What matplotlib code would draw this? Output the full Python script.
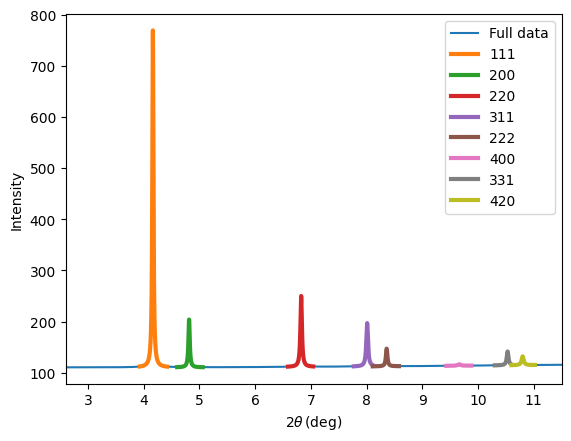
import numpy as np
import matplotlib
matplotlib.use('Agg')
import matplotlib.pyplot as plt

# baseline of the pattern
base_tt = [2.6, 5.0, 7.0, 9.0, 11.5]
base_int = [110.5, 110.5, 111.5, 113.0, 115.5]

# reflections: hkl, position (2theta), apex intensity, half width
hkl = ['111', '200', '220', '311', '222', '400', '331', '420']
peak_pos = [4.165, 4.815, 6.826, 8.01, 8.36, 9.66, 10.53, 10.80]
peak_int = [770, 204, 250, 197, 147, 116.5, 141.5, 132]
peak_hwhm = [0.012, 0.014, 0.016, 0.018, 0.016, 0.03, 0.018, 0.022]

# fit windows
fit_lo = [3.93, 4.60, 6.59, 7.77, 8.11, 9.43, 10.30, 10.60]
fit_hi = [4.42, 5.06, 7.04, 8.11, 8.58, 9.88, 10.60, 11.02]


def baseline(x):
    return np.interp(x, base_tt, base_int)


def lorentz(x, x0, amp, g):
    return amp * g**2 / ((x - x0)**2 + g**2)


tt = np.linspace(2.6, 11.5, 6000)
full = baseline(tt)
for p, h, w in zip(peak_pos, peak_int, peak_hwhm):
    full = full + lorentz(tt, p, h - baseline(p), w)

fig, ax = plt.subplots(figsize=(6.4, 4.8), dpi=100)
ax.plot(tt, full, label='Full data')

for i in range(len(hkl)):
    xs = np.linspace(fit_lo[i], fit_hi[i], 400)
    amp = peak_int[i] - baseline(peak_pos[i])
    ys = baseline(xs) + lorentz(xs, peak_pos[i], amp, peak_hwhm[i])
    ax.plot(xs, ys, lw=3, label=hkl[i])

ax.set_xlim(2.6, 11.5)
ax.set_ylim(78.5, 801)
ax.set_xlabel(r'$2\theta\,$(deg)')
ax.set_ylabel('Intensity')
ax.legend(loc='upper right')

fig.savefig('out.png', dpi=100, bbox_inches='tight')
